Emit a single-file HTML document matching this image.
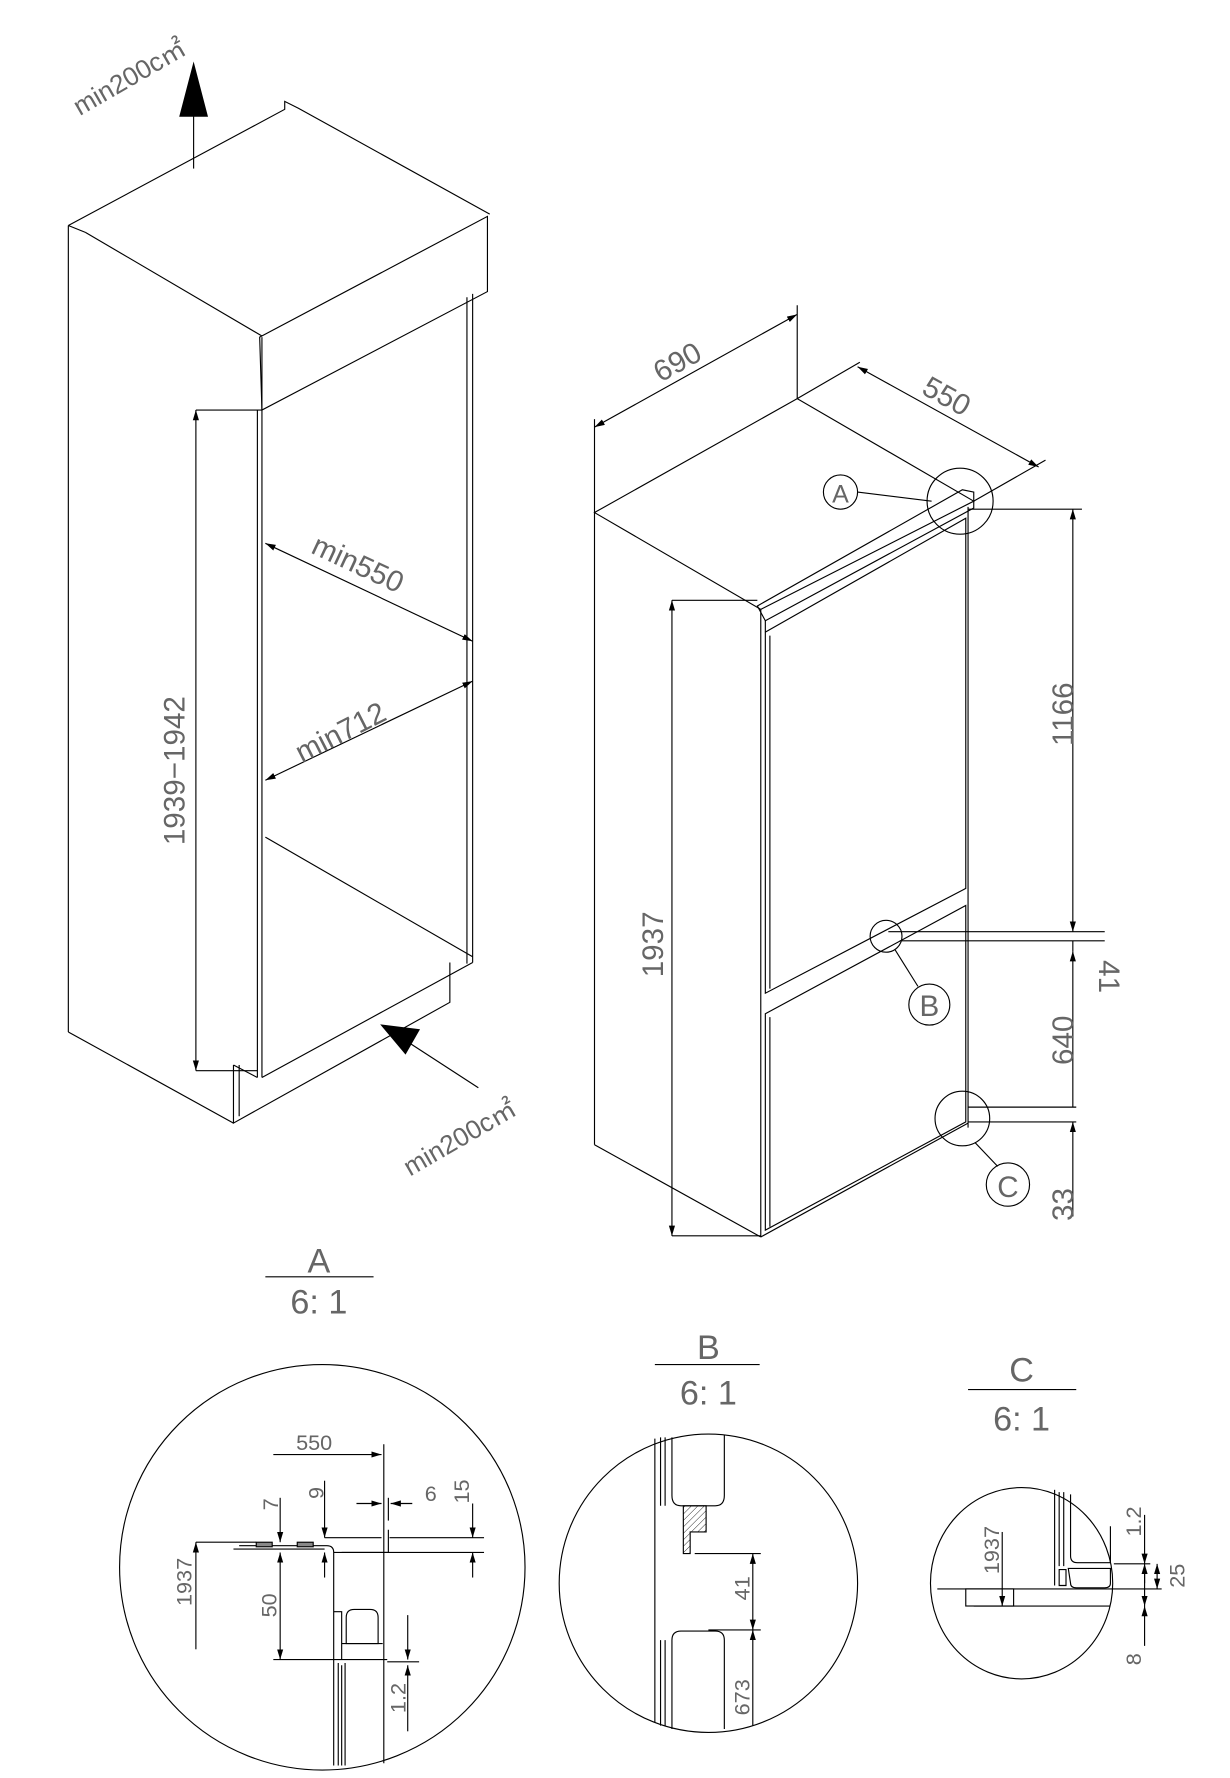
<!DOCTYPE html>
<html><head><meta charset="utf-8"><style>
html,body{margin:0;padding:0;background:#fff;}
svg{display:block;}
text{font-family:"Liberation Sans",sans-serif;fill:#666;}
</style></head><body>
<svg width="1230" height="1778" viewBox="0 0 1080 1561" preserveAspectRatio="none" xmlns="http://www.w3.org/2000/svg">
<defs>
<marker id="ar" viewBox="0 0 10 10" refX="10" refY="5" markerWidth="9" markerHeight="9" orient="auto-start-reverse" markerUnits="userSpaceOnUse"><path d="M0,2 L10,5 L0,8z" fill="#000"/></marker>
<pattern id="hatch" width="4" height="4" patternUnits="userSpaceOnUse" patternTransform="rotate(45)"><line x1="0" y1="0" x2="0" y2="4" stroke="#000" stroke-width="0.7"/></pattern>
</defs>
<g fill="none" stroke="#000" stroke-width="1">
<line x1="170" y1="148" x2="170" y2="100"/>
<path d="M158,102 L182,102 L170,56z" fill="#000"/>
<polyline points="60,198 250,96 250,89 262,95 430,188"/>
<line x1="60" y1="198" x2="75" y2="204"/>
<line x1="75" y1="204" x2="230" y2="295"/>
<path d="M228,296 L428,190 L428,256 L230,360z"/>
<line x1="230" y1="296" x2="230" y2="360"/>
<line x1="60" y1="198" x2="60" y2="906"/>
<line x1="60" y1="906" x2="205" y2="986"/>
<line x1="230" y1="360" x2="230" y2="946"/>
<line x1="226" y1="360" x2="226" y2="946"/>
<line x1="415" y1="258" x2="415" y2="845"/>
<line x1="410" y1="261" x2="410" y2="846"/>
<line x1="230" y1="946" x2="415" y2="845"/>
<line x1="233" y1="735" x2="415" y2="840"/>
<polyline points="205,935 205,986 395,880 395,845"/>
<line x1="205" y1="935" x2="226" y2="946"/>
<line x1="210" y1="935" x2="210" y2="980"/>
<line x1="172" y1="360" x2="172" y2="940" marker-start="url(#ar)" marker-end="url(#ar)"/>
<line x1="172" y1="360" x2="230" y2="360"/>
<line x1="172" y1="940" x2="226" y2="940"/>
<line x1="233" y1="477" x2="415" y2="563" marker-start="url(#ar)" marker-end="url(#ar)"/>
<line x1="233" y1="685" x2="415" y2="598" marker-start="url(#ar)" marker-end="url(#ar)"/>
<line x1="420" y1="955" x2="360" y2="916"/>
<path d="M335,900 L368,904 L356,925z" fill="#000"/>
<path d="M522,450 L700,350 L855,440 L668,535z"/>
<line x1="522" y1="450" x2="522" y2="1005"/>
<line x1="522" y1="1005" x2="668" y2="1086"/>
<line x1="668" y1="535" x2="668" y2="1086"/>
<line x1="850" y1="445" x2="850" y2="990"/>
<line x1="668" y1="1086" x2="850" y2="986"/>
<path d="M672,555 L848,455 L848,780 L672,872z"/>
<path d="M676,558 L676,868"/>
<path d="M672,890 L848,795 L848,985 L672,1080z"/>
<path d="M676,893 L676,1077"/>
<path d="M665,532 L845,430 L855,432 L855,446 L672,545z"/>
<line x1="672" y1="545" x2="672" y2="555"/>
<line x1="522" y1="375" x2="700" y2="276" marker-start="url(#ar)" marker-end="url(#ar)"/>
<line x1="522" y1="368" x2="522" y2="450"/>
<line x1="700" y1="268" x2="700" y2="350"/>
<line x1="753" y1="322" x2="912" y2="410" marker-start="url(#ar)" marker-end="url(#ar)"/>
<line x1="700" y1="350" x2="755" y2="318"/>
<line x1="855" y1="440" x2="918" y2="404"/>
<line x1="942" y1="447" x2="942" y2="818" marker-start="url(#ar)" marker-end="url(#ar)"/>
<line x1="850" y1="447" x2="950" y2="447"/>
<line x1="780" y1="818" x2="970" y2="818"/>
<line x1="790" y1="826" x2="970" y2="826"/>
<line x1="942" y1="835" x2="942" y2="972" marker-start="url(#ar)"/>
<line x1="942" y1="826" x2="942" y2="835"/>
<line x1="850" y1="972" x2="945" y2="972"/>
<line x1="850" y1="985" x2="945" y2="985"/>
<line x1="942" y1="985" x2="942" y2="1068" marker-start="url(#ar)"/>
<line x1="590" y1="527" x2="590" y2="1085" marker-start="url(#ar)" marker-end="url(#ar)"/>
<line x1="590" y1="527" x2="665" y2="527"/>
<line x1="590" y1="1085" x2="668" y2="1085"/>
<circle cx="843" cy="440" r="29"/>
<circle cx="738" cy="432" r="15"/>
<line x1="753" y1="432" x2="818" y2="440"/>
<circle cx="778" cy="822" r="14"/>
<circle cx="816" cy="882" r="18"/>
<line x1="786" y1="834" x2="806" y2="866"/>
<circle cx="845" cy="982" r="24"/>
<circle cx="885" cy="1040" r="19"/>
<line x1="856" y1="1003" x2="876" y2="1024"/>
<line x1="233" y1="1121" x2="328" y2="1121"/>
<line x1="575" y1="1198" x2="667" y2="1198"/>
<line x1="850" y1="1220" x2="945" y2="1220"/>
<circle cx="283" cy="1376" r="178"/>
<line x1="240" y1="1277" x2="335" y2="1277" marker-end="url(#ar)"/>
<line x1="337" y1="1268" x2="337" y2="1548"/>
<line x1="205" y1="1360" x2="285" y2="1360"/>
<line x1="285" y1="1350" x2="335" y2="1350"/>
<line x1="342" y1="1350" x2="425" y2="1350"/>
<path d="M210,1357 L287,1357 Q293,1357 293,1363 L293,1550"/>
<path d="M293,1363 L341,1363 L341,1343"/>
<line x1="300" y1="1363" x2="425" y2="1363"/>
<line x1="172" y1="1354" x2="225" y2="1354"/>
<line x1="172" y1="1354" x2="172" y2="1448" marker-start="url(#ar)"/>
<line x1="246" y1="1315" x2="246" y2="1354" marker-end="url(#ar)"/>
<line x1="246" y1="1363" x2="246" y2="1457" marker-start="url(#ar)" marker-end="url(#ar)"/>
<line x1="285" y1="1300" x2="285" y2="1350" marker-end="url(#ar)"/>
<line x1="285" y1="1363" x2="285" y2="1385" marker-start="url(#ar)"/>
<line x1="313" y1="1320" x2="335" y2="1320" marker-end="url(#ar)"/>
<line x1="362" y1="1320" x2="343" y2="1320" marker-end="url(#ar)"/>
<line x1="341" y1="1315" x2="341" y2="1335"/>
<line x1="415" y1="1320" x2="415" y2="1350" marker-end="url(#ar)"/>
<line x1="415" y1="1363" x2="415" y2="1385" marker-start="url(#ar)"/>
<rect x="225" y="1354" width="14" height="4" fill="#888"/>
<rect x="261" y="1354" width="14" height="4" fill="#888"/>
<line x1="240" y1="1457" x2="340" y2="1457"/>
<path d="M293,1415 L300,1415 L300,1457"/>
<path d="M304,1443 L304,1420 Q304,1413 311,1413 L325,1413 Q332,1413 332,1420 L332,1443 Z"/>
<line x1="300" y1="1443" x2="336" y2="1443"/>
<path d="M297,1460 L297,1550 M300,1462 L300,1550 M303,1460 L303,1550"/>
<line x1="340" y1="1459" x2="368" y2="1459"/>
<line x1="358" y1="1418" x2="358" y2="1457" marker-end="url(#ar)"/>
<line x1="358" y1="1462" x2="358" y2="1520" marker-start="url(#ar)"/>
<ellipse cx="622" cy="1390" rx="131" ry="131"/>
<line x1="575" y1="1263" x2="575" y2="1512"/>
<path d="M580,1262 L580,1322 M584,1262 L584,1322"/>
<path d="M590,1262 L590,1313 Q590,1322 598,1322 L628,1322 Q636,1322 636,1313 L636,1260"/>
<path d="M600,1322 L600,1364 L606,1364 L606,1345 L620,1345 L620,1322 Z" fill="url(#hatch)"/>
<line x1="610" y1="1364" x2="668" y2="1364"/>
<line x1="622" y1="1431" x2="668" y2="1431"/>
<line x1="661" y1="1364" x2="661" y2="1431" marker-start="url(#ar)" marker-end="url(#ar)"/>
<line x1="661" y1="1431" x2="661" y2="1515" marker-start="url(#ar)"/>
<path d="M590,1518 L590,1440 Q590,1432 598,1432 L628,1432 Q636,1432 636,1440 L636,1518"/>
<path d="M580,1440 L580,1515 M584,1440 L584,1515"/>
<ellipse cx="897" cy="1390" rx="80" ry="84"/>
<line x1="926" y1="1308" x2="926" y2="1392"/>
<path d="M930,1310 L930,1375 M934,1310 L934,1375"/>
<path d="M940,1312 L940,1366 Q940,1372 946,1372 L975,1372 L975,1340"/>
<path d="M930,1378 L930,1392 L936,1392 L936,1378 Z"/>
<path d="M938,1377 L975,1377 L975,1390 Q975,1394 970,1394 L945,1394 Q940,1394 940,1390 Z"/>
<line x1="823" y1="1395" x2="1020" y2="1395"/>
<line x1="855" y1="1410" x2="975" y2="1410"/>
<rect x="848" y="1395" width="42" height="15"/>
<line x1="880" y1="1345" x2="880" y2="1410" marker-end="url(#ar)"/>
<line x1="978" y1="1373" x2="1010" y2="1373"/>
<line x1="1005" y1="1330" x2="1005" y2="1373" marker-end="url(#ar)"/>
<line x1="1005" y1="1373" x2="1005" y2="1390" marker-start="url(#ar)"/>
<line x1="1016" y1="1373" x2="1016" y2="1395" marker-start="url(#ar)" marker-end="url(#ar)"/>
<line x1="1005" y1="1380" x2="1005" y2="1410" marker-end="url(#ar)"/>
<line x1="1005" y1="1410" x2="1005" y2="1445" marker-start="url(#ar)"/>
</g>
<g font-size="24" style="font-family:'Liberation Sans',sans-serif">
<text x="70" y="102" transform="rotate(-30 70 102)" fill="#000" font-size="23">min200c㎡</text>
<text x="360" y="1033" transform="rotate(-30 360 1033)" fill="#000" font-size="23">min200c㎡</text>
<text x="162" y="742" transform="rotate(-90 162 742)" font-size="26">1939−1942</text>
<text x="272" y="485" transform="rotate(25 272 485)" font-size="26">min550</text>
<text x="265" y="670" transform="rotate(-27 265 670)" font-size="26">min712</text>
<text x="580" y="336" transform="rotate(-29 580 336)" font-size="26">690</text>
<text x="808" y="345" transform="rotate(29 808 345)" font-size="26">550</text>
<text x="942" y="655" transform="rotate(-90 942 655)" font-size="26">1166</text>
<text x="965" y="843" transform="rotate(90 965 843)" font-size="26">41</text>
<text x="942" y="935" transform="rotate(-90 942 935)" font-size="26">640</text>
<text x="942" y="1072" transform="rotate(-90 942 1072)" font-size="26">33</text>
<text x="582" y="858" transform="rotate(-90 582 858)" font-size="26">1937</text>
<text x="738" y="441" text-anchor="middle" font-size="22">A</text>
<text x="816" y="892" text-anchor="middle" font-size="26">B</text>
<text x="885" y="1051" text-anchor="middle" font-size="26">C</text>
<text x="280" y="1117" text-anchor="middle" font-size="30">A</text>
<text x="280" y="1153" text-anchor="middle" font-size="30">6: 1</text>
<text x="622" y="1193" text-anchor="middle" font-size="30">B</text>
<text x="622" y="1233" text-anchor="middle" font-size="30">6: 1</text>
<text x="897" y="1213" text-anchor="middle" font-size="30">C</text>
<text x="897" y="1256" text-anchor="middle" font-size="30">6: 1</text>
<g font-size="19">
<text x="260" y="1273">550</text>
<text x="244" y="1326" transform="rotate(-90 244 1326)">7</text>
<text x="284" y="1316" transform="rotate(-90 284 1316)">9</text>
<text x="373" y="1318">6</text>
<text x="412" y="1320" transform="rotate(-90 412 1320)">15</text>
<text x="168" y="1410" transform="rotate(-90 168 1410)">1937</text>
<text x="243" y="1420" transform="rotate(-90 243 1420)">50</text>
<text x="356" y="1504" transform="rotate(-90 356 1504)">1.2</text>
<text x="658" y="1405" transform="rotate(-90 658 1405)">41</text>
<text x="658" y="1506" transform="rotate(-90 658 1506)">673</text>
<text x="877" y="1382" transform="rotate(-90 877 1382)">1937</text>
<text x="1002" y="1349" transform="rotate(-90 1002 1349)">1.2</text>
<text x="1040" y="1394" transform="rotate(-90 1040 1394)">25</text>
<text x="1002" y="1462" transform="rotate(-90 1002 1462)">8</text>
</g>
</g>
</svg>
</body></html>
